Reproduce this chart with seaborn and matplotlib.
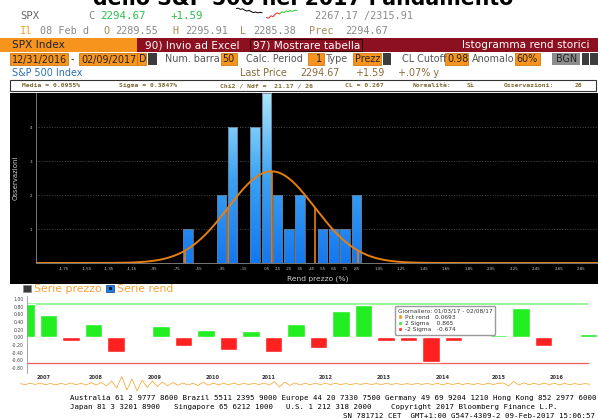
import numpy as np
import matplotlib
matplotlib.use("Agg")
import matplotlib.pyplot as plt
from matplotlib.patches import Rectangle, Patch
from matplotlib.colors import LinearSegmentedColormap
import seaborn as sns

sns.set_style("white")
plt.rcParams["font.family"] = ["DejaVu Sans"]

W, H = 598, 419

# --- histogram of daily returns (SPX, 12/31/2016 - 02/09/2017)
bin_centers = [-0.65, -0.35, -0.25, -0.05, 0.05, 0.15, 0.25, 0.35, 0.55, 0.65, 0.75, 0.85]
bin_counts = [1, 2, 4, 4, 5, 2, 1, 2, 1, 1, 1, 2]
media = 0.0955
sigma = 0.3847
n_obs = 26
xtick_vals = [-1.75, -1.55, -1.35, -1.15, -0.95, -0.75, -0.55, -0.35, -0.15, 0.05,
              0.15, 0.25, 0.35, 0.45, 0.55, 0.65, 0.75, 0.85, 1.05, 1.25, 1.45,
              1.65, 1.85, 2.05, 2.25, 2.45, 2.65, 2.85]

# --- period returns (bottom panel)
period_ret = [0.88, 0.58, -0.09, 0.36, -0.38, 0.01, 0.29, -0.23, 0.19, -0.32, 0.17, -0.38, 0.35,
              -0.29, 0.69, 0.84, -0.09, -0.09, -0.64, -0.09, 0.01, 0.06, 0.76, -0.23, 0.01, 0.08]
years = ["2007", "2008", "2009", "2010", "2011", "2012", "2013", "2014", "2015", "2016"]
sigma2_hi = 0.865
sigma2_lo = -0.674
pct_rend = 0.0693

# --- daily return strip (rough reading of the orange noise band)
daily_ret = [0.5, -0.6, 0.7, -0.4, 0.8, -0.7, 0.5, -0.9, 0.6, -0.5, 1.0, -0.8, 0.7, -1.0, 1.2, -0.9,
             1.5, -2.0, 3.0, -4.0, 7.5, -6.0, 5.0, -7.0, 4.0, -3.5, 3.0, -2.5,
             2.0, -1.8, 1.5, -1.2, 1.0, -1.0, 0.8, -1.5, 2.0, -1.2, 0.8, -0.7, 0.6, -0.6, 0.8,
             -0.7, 0.6, -0.5, 0.7, -0.6, 1.0, -1.2,
             2.5, -3.0, 2.0, -1.5, 1.2, -1.0, 0.8, -0.7, 0.6, -0.5,
             0.5, -0.4, 0.6, -0.5, 0.4, -0.6, 0.5, -0.4, 0.7, -0.5, 0.4, -0.5, 0.6, -0.4, 0.5,
             -0.6, 0.4, -0.5, 0.6, -0.4, 0.5, -0.5, 0.6, -0.7, 0.5, -0.4, 0.6, -0.5, 0.7, -0.6,
             0.5, -0.6, 0.7, -0.5, 0.6,
             1.0, -2.0, 2.5, -1.0, 1.2,
             -0.8, 0.7, -0.6, 0.8, -0.5, 0.6, -0.7, 0.5, -0.6, 0.4, -0.5, 0.4, -0.3]

# --- intraday sparkline in the quote line
spark_black = [6.5, 6.8, 6.0, 6.4, 5.5, 5.0, 5.4, 4.6, 4.0, 4.4, 3.8, 4.2, 3.9]
spark_red = [1.0, 0.5, 2.0, 1.5, 3.0, 3.8, 3.2]
spark_green = [3.2, 4.5, 4.0, 5.0, 4.6, 5.2, 4.8, 5.5, 5.3]

ORANGE = "#f7941d"
DRED = "#8c1020"
GREY = "#8a8a8a"
BROWN = "#a58a5c"

fig = plt.figure(figsize=(W / 100, H / 100), dpi=100)
fig.patch.set_facecolor("white")


def fx(x):
    return x / W


def fy(y):
    return 1 - y / H


def box(x0, y0, x1, y1, fc, ec="none", lw=0.6, z=-5):
    fig.patches.append(Rectangle((fx(x0), fy(y1)), (x1 - x0) / W, (y1 - y0) / H,
                                 transform=fig.transFigure, facecolor=fc,
                                 edgecolor=ec, linewidth=lw, zorder=z))


def txt(x, y, s, size=7.0, color="#222222", **kw):
    fig.text(fx(x), fy(y), s, fontsize=size, color=color, va="center", **kw)


# -----------------------------------------------------------------------------
# title cut at the top edge
fig.text(fx(93), fy(5), "dello S&P 500 nel 2017 l'andamento", fontsize=14.8,
         fontweight="bold", color="black", va="baseline")

# quote lines
mono = "DejaVu Sans Mono"
txt(20, 16, "SPX", 7.6, "#666666", family=mono)
txt(88, 16, "C", 7.6, GREY, family=mono)
txt(100, 16, "2294.67", 7.8, "#2fbf4f", family=mono)
txt(170, 16, "+1.59", 7.8, "#2fbf4f", family=mono)
txt(315, 16, "2267.17 /2315.91", 7.3, GREY, family=mono)
txt(20, 31, "Il", 7.6, "#e8a030", family=mono)
txt(40, 31, "08 Feb d", 7.3, GREY, family=mono)
txt(103, 31, "O", 7.3, BROWN, family=mono)
txt(115, 31, "2289.55", 7.3, GREY, family=mono)
txt(172, 31, "H", 7.3, BROWN, family=mono)
txt(185, 31, "2295.91", 7.3, GREY, family=mono)
txt(240, 31, "L", 7.3, BROWN, family=mono)
txt(253, 31, "2285.38", 7.3, GREY, family=mono)
txt(309, 31, "Prec", 7.3, BROWN, family=mono)
txt(345, 31, "2294.67", 7.3, GREY, family=mono)

axs = fig.add_axes([fx(236), fy(19), 61 / W, 12 / H])
sns.lineplot(x=list(range(13)), y=spark_black, ax=axs, color="black", lw=0.7)
sns.lineplot(x=list(range(14, 21)), y=spark_red, ax=axs, color="#ee2020", lw=0.7)
sns.lineplot(x=list(range(20, 29)), y=spark_green, ax=axs, color="#20d020", lw=0.7)
axs.set_xlim(0, 28)
axs.set_ylim(0, 7.5)
axs.axis("off")

# header bar
box(0, 38, 137, 52, ORANGE)
box(137, 38, 598, 52, DRED)
box(250, 39, 362, 51, DRED, ec="#3a0008", lw=0.8, z=-4)
txt(12, 45.5, "SPX Index", 7.6, "#222222")
txt(145, 45.5, "90) Invio ad Excel", 7.6, "white")
txt(253, 45.5, "97) Mostrare tabella", 7.6, "white")
txt(590, 45.5, "Istogramma rend storici", 7.6, "white", ha="right")

# parameter row
for x0, x1 in [(10, 68), (79, 137), (137, 146), (221, 237), (308, 324), (353, 381),
               (445, 468), (515, 540)]:
    box(x0, 53, x1, 65, ORANGE, ec="#c86a00", lw=0.5)
box(148, 53, 157, 65, "#3c3c3c")
box(383, 53, 391, 65, "#3c3c3c")
box(552, 53, 580, 65, "#8c8c8c")
box(582, 53, 589, 65, "#3c3c3c")
box(590, 53, 598, 65, "#3c3c3c")
rowy = 59.5
txt(12, rowy, "12/31/2016", 6.9)
txt(71, rowy, "-", 6.9)
txt(81, rowy, "02/09/2017", 6.9)
txt(139, rowy, "D", 6.9)
txt(165, rowy, "Num. barra", 6.9, "#555555")
txt(235, rowy, "50", 6.9, ha="right")
txt(246, rowy, "Calc. Period", 6.9, "#555555")
txt(322, rowy, "1", 6.9, ha="right")
txt(326, rowy, "Type", 6.9, "#555555")
txt(355, rowy, "Prezz", 6.9)
txt(402, rowy, "CL Cutoff", 6.9, "#555555")
txt(447, rowy, "0.98", 6.9)
txt(472, rowy, "Anomalo", 6.9, "#555555")
txt(538, rowy, "60%", 6.9, ha="right")
txt(556, rowy, "BGN", 6.9)

# name / last price row
txt(12, 73, "S&P 500 Index", 6.9, "#2f6fb0")
txt(240, 73, "Last Price", 6.9, "#8a6a3a")
txt(300, 73, "2294.67", 6.9, "#8a6a3a")
txt(356, 73, "+1.59", 6.9, "#8a6a3a")
txt(398, 73, "+.07% y", 6.9, "#8a6a3a")

# statistics strip
box(10, 80, 596, 91, "white", ec="#333333", lw=0.8)
stat_c = "#7a6a30"
for x, s in [(22, "Media = 0.0955%"), (119, "Sigma = 0.3847%"),
             (220, "Chi2 / Ndf =  21.17 / 26"), (345, "CL = 0.267"),
             (413, "Normalità:"), (467, "Sì"), (504, "Osservazioni:"), (575, "26")]:
    txt(x, 85.5, s, 4.6, stat_c, family=mono, fontweight="bold")

# -----------------------------------------------------------------------------
# histogram panel
box(10, 93, 598, 284, "black")
ax = fig.add_axes([fx(36), fy(263), (598 - 36) / W, (263 - 93) / H])
ax.set_facecolor("none")
sns.histplot(x=bin_centers, weights=bin_counts, binwidth=0.1, binrange=(-0.7, 0.9),
             shrink=0.85, ax=ax, color="#2a90f0", edgecolor="#6a7888",
             linewidth=0.6, alpha=1)

cmap = LinearSegmentedColormap.from_list("bb", ["#1478f0", "#3aa2f5", "#a8e6fb"])
for p in list(ax.patches):
    h = p.get_height()
    if h <= 0:
        p.set_visible(False)
        continue
    x0, w = p.get_x(), p.get_width()
    grad = np.linspace(h, 0, 64).reshape(-1, 1)
    im = ax.imshow(grad, extent=[x0, x0 + w, 0, h], cmap=cmap, vmin=0, vmax=5,
                   aspect="auto", zorder=2)
    im.set_clip_path(p)
    p.set_facecolor("none")
    p.set_zorder(3)

xs = np.linspace(-2.0, 3.0, 500)
amp = n_obs * 0.1 / (sigma * np.sqrt(2 * np.pi))
pdf = amp * np.exp(-0.5 * ((xs - media) / sigma) ** 2)
sns.lineplot(x=xs, y=pdf, ax=ax, color="#e67e12", lw=1.4, zorder=5)
for k in (-2, -1, 0, 1, 2):
    xv = media + k * sigma
    ax.vlines(xv, 0, amp * np.exp(-0.5 * k * k), color="#e67e12", lw=1.2, zorder=5)

ax.set_xlim(-2.0, 3.0)
ax.set_ylim(0, 5)


def fmt(v):
    s = f"{abs(v):.2f}"
    if s.startswith("0"):
        s = s[1:]
    return ("-" if v < 0 else "") + s


ax.set_xticks(xtick_vals, [fmt(v) for v in xtick_vals])
ax.set_yticks([1, 2, 3, 4], ["1", "2", "3", "4"])
ax.tick_params(axis="both", labelsize=2.9, colors="#c8c8c8", length=1.5, width=0.6,
               pad=1.5, direction="out")
ax.grid(axis="y", color="#4a4a4a", ls=":", lw=0.7)
ax.set_axisbelow(True)
for s in ("top", "right"):
    ax.spines[s].set_visible(False)
for s in ("left", "bottom"):
    ax.spines[s].set_color("#777777")
    ax.spines[s].set_linewidth(0.7)
ax.set_xlabel("")
ax.set_ylabel("")
txt(318, 278.5, "Rend prezzo (%)", 5.4, "#cfcfcf", ha="center")
txt(16, 178, "Osservazioni", 5.0, "#cfcfcf", ha="center", rotation=90)

# -----------------------------------------------------------------------------
# series legend row
box(23, 285, 31, 292, "#3a3a3a", ec="#888888", lw=0.5, z=2)
txt(34, 289, "Serie prezzo", 7.8, "#f6a23a")
box(106, 285, 114, 292, "#1f7fe0", ec="#0b3f80", lw=0.5, z=2)
box(108.5, 287.2, 111.5, 290, "#0a1a30", z=3)
txt(117, 289, "Serie rend", 7.8, "#f6a23a")

# period returns panel
ax2 = fig.add_axes([fx(27), fy(373), (598 - 27) / W, (373 - 296) / H])
idx = list(range(len(period_ret)))
bar_cols = ["#22ee22" if v >= 0 else "#ff2020" for v in period_ret]
sns.barplot(x=idx, y=period_ret, hue=idx, palette=bar_cols, legend=False,
            width=0.78, saturation=1, ax=ax2)
ax2.axhline(sigma2_hi, xmax=0.982, color="#8ef58e", lw=1.3, zorder=0)
ax2.axhline(sigma2_lo, xmax=0.982, color="#f05a5a", lw=0.9, zorder=0)
ax2.set_xlim(0.04, 25.43)
ax2.set_ylim(-0.932, 1.078)
yt = [1.0, 0.8, 0.6, 0.4, 0.2, 0.0, -0.2, -0.4, -0.6, -0.8]
ax2.set_yticks(yt, [f"{v:.2f}" for v in yt])
ax2.set_xticks([0.8, 3.1, 5.7, 8.3, 10.8, 13.3, 15.9, 18.5, 21.0, 23.6], years)
ax2.tick_params(axis="y", labelsize=3.3, colors="#444444", length=1.2, width=0.5, pad=1)
ax2.tick_params(axis="x", labelsize=3.6, colors="#333333", length=0, pad=1.2)
for lab in ax2.get_xticklabels():
    lab.set_fontweight("bold")
for s in ("top", "right", "bottom"):
    ax2.spines[s].set_visible(False)
ax2.spines["left"].set_color("#999999")
ax2.spines["left"].set_linewidth(0.6)
ax2.set_xlabel("")
ax2.set_ylabel("")
box(0, 372.6, 598, 373.2, "#9a9a9a", z=2)

handles = [Patch(facecolor="#f7941d"), Patch(facecolor="#22ee22"), Patch(facecolor="#ff2020")]
labels = [f"Pct rend   {pct_rend:.4f}", f"2 Sigma    {sigma2_hi:.3f}",
          f"-2 Sigma   {sigma2_lo:.3f}"]
leg = ax2.legend(handles, labels, title="Giornaliero: 01/03/17 - 02/08/17",
                 loc="upper left", bbox_to_anchor=(fx(392), fy(303)),
                 bbox_transform=fig.transFigure, fontsize=4.2, title_fontsize=4.2,
                 alignment="left", handlelength=0.8, handleheight=0.8,
                 handletextpad=0.5, labelspacing=0.15, borderpad=0.45,
                 frameon=True, fancybox=True, framealpha=1,
                 edgecolor="#9a9a9a", facecolor="white")
leg.get_title().set_color("#333333")
for t in leg.get_texts():
    t.set_color("#333333")

# daily returns strip
ax3 = fig.add_axes([fx(20), fy(394), 570 / W, 20 / H])
sns.lineplot(x=list(range(len(daily_ret))), y=daily_ret, ax=ax3, color="#f5a020", lw=0.5)
ax3.set_xlim(0, len(daily_ret) - 1)
ax3.set_ylim(-10, 10)
ax3.axis("off")

# footer
fs = 5.3
txt(70, 398, "Australia 61 2 9777 8600 Brazil 5511 2395 9000 Europe 44 20 7330 7500 "
    "Germany 49 69 9204 1210 Hong Kong 852 2977 6000", fs, "black", family=mono)
txt(70, 407, "Japan 81 3 3201 8900", fs, "black", family=mono)
txt(174, 407, "Singapore 65 6212 1000", fs, "black", family=mono)
txt(286, 407, "U.S. 1 212 318 2000", fs, "black", family=mono)
txt(391, 407, "Copyright 2017 Bloomberg Finance L.P.", fs, "black", family=mono)
txt(595, 415.5, "SN 781712 CET  GMT+1:00 G547-4309-2 09-Feb-2017 15:06:57", fs, "black",
    family=mono, ha="right")

fig.savefig("out.png", dpi=100)
